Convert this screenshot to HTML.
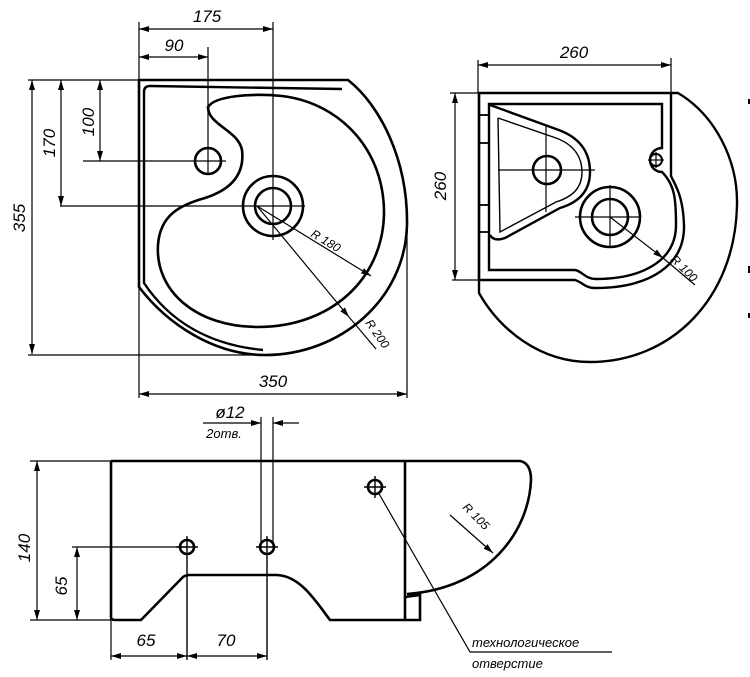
<!DOCTYPE html>
<html><head><meta charset="utf-8"><style>
html,body{margin:0;padding:0;background:#fff;}
svg{display:block;}
text{font-family:"Liberation Sans","DejaVu Sans",sans-serif;font-style:italic;fill:#000;}
</style></head><body>
<svg width="750" height="677" viewBox="0 0 750 677" xmlns="http://www.w3.org/2000/svg">
<defs>
<marker id="a" viewBox="0 0 10 10" refX="10" refY="5" markerWidth="10" markerHeight="10" orient="auto-start-reverse" markerUnits="userSpaceOnUse"><path d="M0,2 L10,5 L0,8 Z" fill="#000"/></marker>
</defs>
<g fill="none" stroke="#000">
<!-- ===== TOP LEFT VIEW ===== -->
<path stroke-width="2.6" d="M139,80 L348,80 C380,105 408,160 407,225 C405,300 340,355 265,355 C215,355 168,325 139,287 Z"/>
<path stroke-width="2.4" d="M342,89 L150,86 Q144,86 144,92 L144,283 C170,322 210,345 263,350"/>
<path stroke-width="2.6" d="M208,107 C215,96 250,93 282,96 C340,103 385,150 384,215 C382,280 330,327 258,327 C195,327 155,290 158,245 C160,215 180,205 205,198 C230,190 245,175 242,150 C238,130 208,125 208,107 Z"/>
<circle cx="208" cy="161" r="13" stroke-width="2.6"/>
<circle cx="273" cy="206" r="30" stroke-width="2.6"/>
<circle cx="273" cy="206" r="18" stroke-width="2.6"/>
<g stroke-width="1.2">
<line x1="273" y1="22" x2="273" y2="240"/>
<line x1="60" y1="206" x2="305" y2="206"/>
<line x1="208" y1="47" x2="208" y2="175"/>
<line x1="83" y1="161" x2="226" y2="161"/>
<line x1="139" y1="22" x2="139" y2="398"/>
<line x1="407" y1="230" x2="407" y2="398"/>
<line x1="28" y1="80" x2="139" y2="80"/>
<line x1="28" y1="355" x2="265" y2="355"/>
<line x1="139" y1="29" x2="273" y2="29" marker-start="url(#a)" marker-end="url(#a)"/>
<line x1="139" y1="57" x2="208" y2="57" marker-start="url(#a)" marker-end="url(#a)"/>
<line x1="32" y1="80" x2="32" y2="354" marker-start="url(#a)" marker-end="url(#a)"/>
<line x1="61" y1="80" x2="61" y2="206" marker-start="url(#a)" marker-end="url(#a)"/>
<line x1="100" y1="80" x2="100" y2="161" marker-start="url(#a)" marker-end="url(#a)"/>
<line x1="139" y1="394" x2="407" y2="394" marker-start="url(#a)" marker-end="url(#a)"/>
<line x1="257" y1="206" x2="371" y2="276" marker-end="url(#a)"/>
<line x1="257" y1="206" x2="349" y2="317" marker-end="url(#a)"/>
<line x1="349" y1="317" x2="376" y2="349"/>
</g>
<!-- ===== TOP RIGHT VIEW ===== -->
<path stroke-width="2.4" d="M479,93 L678,93 C715,115 738,160 737,205 C735,300 670,362 590,362 C540,362 500,330 479,293 Z"/>
<path stroke-width="2.4" d="M479,93 L479,280 L575,280 C582,282 585,288 595,288 C650,288 685,265 684,225 C683,195 675,185 671,176 L671,93"/>
<path stroke-width="2.4" d="M489,270 L489,104 L662,104 L662,148 A9,9 0 0 0 662,172 C675,185 676,200 676,225 C676,262 640,279 596,279 C585,279 582,271 575,270 Z"/>
<g stroke-width="1.8">
<line x1="479" y1="115" x2="489" y2="115"/>
<line x1="479" y1="143" x2="489" y2="143"/>
<line x1="479" y1="205" x2="489" y2="205"/>
<line x1="479" y1="232" x2="489" y2="232"/>
</g>
<path stroke-width="2.4" d="M490,105 L556,129 C580,137 590,152 590,172 C590,190 580,202 560,208 L505,238 Q494,242 490,235"/>
<path stroke-width="1.4" d="M498,118 L556,138 C575,145 582,158 582,172 C582,186 575,196 556,202 L500,232 L498,118"/>
<circle cx="547" cy="170" r="14" stroke-width="2.6"/>
<circle cx="610" cy="217" r="30" stroke-width="2.6"/>
<circle cx="610" cy="217" r="18" stroke-width="2.6"/>
<circle cx="656" cy="160" r="6" stroke-width="2"/>
<g stroke-width="1.2">
<line x1="498" y1="170" x2="595" y2="170"/>
<line x1="546" y1="125" x2="546" y2="212"/>
<line x1="575" y1="217" x2="640" y2="217"/>
<line x1="610" y1="185" x2="610" y2="248"/>
<line x1="648" y1="160" x2="664" y2="160"/>
<line x1="656" y1="152" x2="656" y2="168"/>
<line x1="478" y1="60" x2="478" y2="93"/>
<line x1="671" y1="58" x2="671" y2="93"/>
<line x1="478" y1="65" x2="671" y2="65" marker-start="url(#a)" marker-end="url(#a)"/>
<line x1="450" y1="93" x2="479" y2="93"/>
<line x1="452" y1="280" x2="479" y2="280"/>
<line x1="455" y1="93" x2="455" y2="280" marker-start="url(#a)" marker-end="url(#a)"/>
<line x1="610" y1="217" x2="663" y2="258" marker-end="url(#a)"/>
<line x1="663" y1="258" x2="695" y2="285"/>
</g>
<g stroke-width="2"><line x1="749" y1="99" x2="749" y2="104"/><line x1="749" y1="266" x2="749" y2="273"/><line x1="749" y1="313" x2="749" y2="318"/></g>
<!-- ===== BOTTOM VIEW ===== -->
<path stroke-width="2.6" d="M111,461 L111,617 Q111,620 115,620 L141,620 L183,577 Q186,575 190,575 L277,575 C300,576 315,600 330,620 L420,620 L420,595 L405,597 M111,461 L520,461 Q531,463 531,480 C529,530 490,588 407,594 M405,461 L405,620"/>
<circle cx="187" cy="547" r="7" stroke-width="2.6"/>
<circle cx="267" cy="547" r="7" stroke-width="2.6"/>
<circle cx="375" cy="487" r="7" stroke-width="2.6"/>
<g stroke-width="1.4">
<line x1="176" y1="547" x2="198" y2="547"/><line x1="187" y1="536" x2="187" y2="660"/>
<line x1="256" y1="547" x2="278" y2="547"/><line x1="267" y1="536" x2="267" y2="660"/>
<line x1="364" y1="487" x2="386" y2="487"/><line x1="375" y1="476" x2="375" y2="498"/>
</g>
<g stroke-width="1.2">
<line x1="261" y1="417" x2="261" y2="547"/>
<line x1="273" y1="417" x2="273" y2="547"/>
<line x1="203" y1="423" x2="261" y2="423" marker-end="url(#a)"/>
<line x1="299" y1="423" x2="273" y2="423" marker-end="url(#a)"/>
<line x1="30" y1="461" x2="111" y2="461"/>
<line x1="30" y1="620" x2="111" y2="620"/>
<line x1="37" y1="461" x2="37" y2="620" marker-start="url(#a)" marker-end="url(#a)"/>
<line x1="72" y1="547" x2="187" y2="547"/>
<line x1="77" y1="547" x2="77" y2="620" marker-start="url(#a)" marker-end="url(#a)"/>
<line x1="111" y1="620" x2="111" y2="660"/>
<line x1="111" y1="656" x2="187" y2="656" marker-start="url(#a)" marker-end="url(#a)"/>
<line x1="187" y1="656" x2="267" y2="656" marker-start="url(#a)" marker-end="url(#a)"/>
<line x1="378" y1="492" x2="470" y2="652"/>
<line x1="470" y1="652" x2="612" y2="652"/>
<line x1="450" y1="515" x2="493" y2="553" marker-end="url(#a)"/>
</g>
</g>
<!-- TEXT -->
<g font-size="17">
<text x="207" y="22" text-anchor="middle">175</text>
<text x="174" y="51" text-anchor="middle">90</text>
<text x="273" y="387" text-anchor="middle">350</text>
<text transform="translate(25,218) rotate(-90)" text-anchor="middle">355</text>
<text transform="translate(55,143) rotate(-90)" text-anchor="middle">170</text>
<text transform="translate(94,122) rotate(-90)" text-anchor="middle">100</text>
<text x="574" y="58" text-anchor="middle">260</text>
<text transform="translate(446,186) rotate(-90)" text-anchor="middle">260</text>
<text transform="translate(30,548) rotate(-90)" text-anchor="middle">140</text>
<text transform="translate(67,586) rotate(-90)" text-anchor="middle">65</text>
<text x="146" y="646" text-anchor="middle">65</text>
<text x="226" y="646" text-anchor="middle">70</text>
<text x="230" y="418" text-anchor="middle">ø12</text>
</g>
<g font-size="12">
<text transform="translate(310,236) rotate(31)">R 180</text>
<text transform="translate(365,323) rotate(55)">R 200</text>
<text transform="translate(670,260) rotate(45)">R 100</text>
<text transform="translate(462,508) rotate(45)">R 105</text>
<text x="224" y="438" text-anchor="middle" font-size="13">2отв.</text>
<text x="472" y="647" font-size="13">технологическое</text>
<text x="472" y="668" font-size="13">отверстие</text>
</g>
</svg>
</body></html>
